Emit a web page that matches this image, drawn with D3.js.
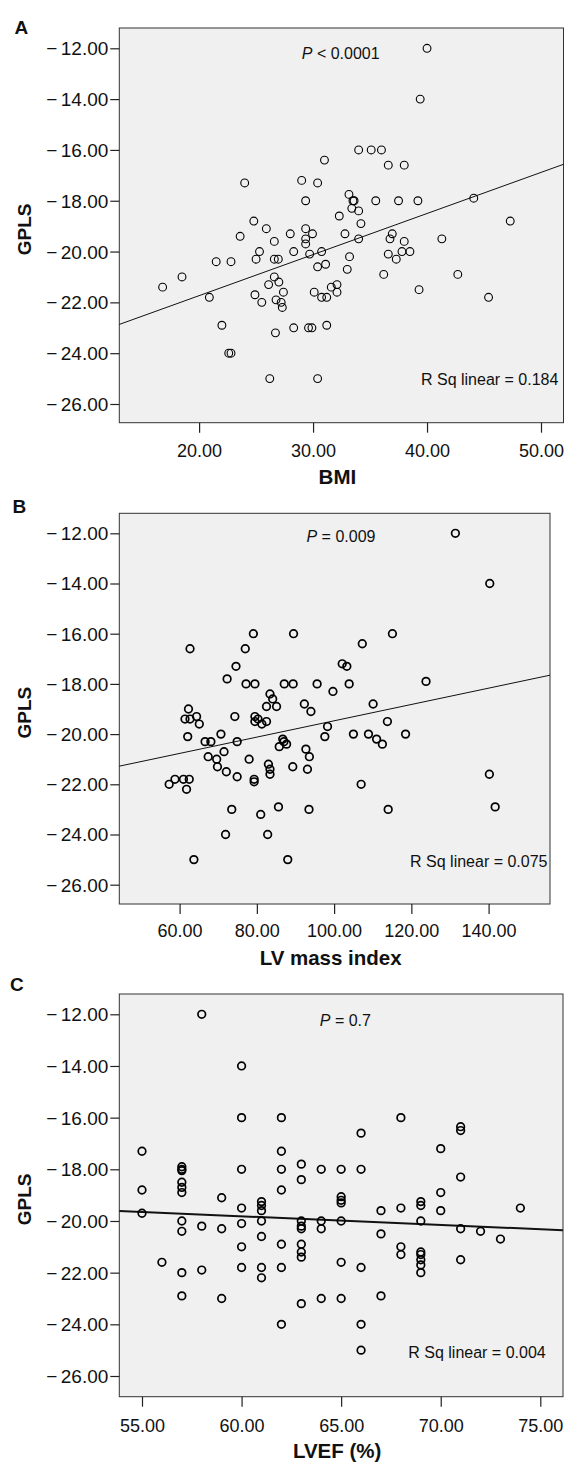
<!DOCTYPE html>
<html>
<head>
<meta charset="utf-8">
<script src="https://cdn.jsdelivr.net/npm/d3@7"></script>
<style>
html,body{margin:0;padding:0;background:#fff;}
svg{display:block;font-family:"Liberation Sans",Arial,sans-serif;}
</style>
</head>
<body>
<svg id="chart" width="566" height="1463"></svg>
<script>
// ---------- DATA ----------
const gplsTicks = [-26, -24, -22, -20, -18, -16, -14, -12];
const bmiTicks = [20, 30, 40, 50];
const lvmiTicks = [60, 80, 100, 120, 140];
const lvefTicks = [55, 60, 65, 70, 75];

// Panel A: BMI vs GPLS
const bmi = [40.0,39.4,34.0,35.1,36.0,31.0,36.6,38.0,24.0,29.0,30.4,29.35,33.15,33.5,33.6,33.4,34.0,35.5,37.5,39.2,44.1,47.3,32.3,34.2,24.8,25.9,23.6,26.6,28.0,29.35,29.95,29.35,29.35,32.8,34.0,36.95,36.75,38.0,41.3,
  25.3,25.0,21.5,22.8,18.5,16.8,20.9,26.6,26.95,28.3,29.7,30.75,30.4,31.1,33.2,33.0,36.6,37.3,37.8,38.5,36.2,42.7,39.3,45.4,26.6,26.1,27.0,24.9,25.5,27.4,26.75,27.2,27.3,30.1,30.75,31.2,31.6,32.1,32.1,22.0,26.7,28.3,29.6,29.9,31.2,22.6,22.8,26.2,30.4];
const gplsA = [-12.0,-14.0,-16.0,-16.0,-16.0,-16.4,-16.6,-16.6,-17.3,-17.2,-17.3,-18.0,-17.75,-18.0,-18.0,-18.3,-18.4,-18.0,-18.0,-18.0,-17.9,-18.8,-18.6,-18.9,-18.8,-19.1,-19.4,-19.6,-19.3,-19.1,-19.3,-19.5,-19.7,-19.3,-19.5,-19.3,-19.5,-19.6,-19.5,
  -20.0,-20.3,-20.4,-20.4,-21.0,-21.4,-21.8,-20.3,-20.3,-20.0,-20.1,-20.0,-20.6,-20.5,-20.2,-20.7,-20.1,-20.3,-20.0,-20.0,-20.9,-20.9,-21.5,-21.8,-21.0,-21.3,-21.2,-21.7,-22.0,-21.6,-21.9,-22.0,-22.2,-21.6,-21.8,-21.8,-21.4,-21.3,-21.6,-22.9,-23.2,-23.0,-23.0,-23.0,-22.9,-24.0,-24.0,-25.0,-25.0];

// Panel B: LV mass index vs GPLS
const lvmi = [131.4,140.3,79.1,89.5,115.1,62.7,77.0,107.3,74.6,102.1,103.3,72.3,77.2,79.5,87.1,89.4,95.6,103.9,123.8,99.7,83.4,84.1,82.5,85.1,92.3,94.0,110.1,62.3,61.4,62.7,64.4,65.1,74.3,79.5,80.3,79.5,81.3,82.5,113.8,98.3,97.6,
  62.1,66.6,68.1,70.7,74.9,105.0,108.9,111.0,112.5,118.5,67.4,69.6,71.5,69.8,72.1,74.9,78.0,79.3,79.3,83.0,83.4,83.4,86.7,87.7,85.8,87.0,89.3,92.7,93.6,93.1,57.3,58.8,61.0,62.5,61.8,107.0,140.2,141.7,73.5,81.0,85.6,93.5,114.0,71.9,82.8,63.7,88.0];
const gplsB = [-12.0,-14.0,-16.0,-16.0,-16.0,-16.6,-16.6,-16.4,-17.3,-17.2,-17.3,-17.8,-18.0,-18.0,-18.0,-18.0,-18.0,-18.0,-17.9,-18.3,-18.4,-18.6,-18.9,-18.9,-18.8,-19.1,-18.8,-19.0,-19.4,-19.4,-19.3,-19.6,-19.3,-19.3,-19.4,-19.5,-19.6,-19.5,-19.5,-19.7,-20.1,
  -20.1,-20.3,-20.3,-20.0,-20.3,-20.0,-20.0,-20.2,-20.4,-20.0,-20.9,-21.0,-20.7,-21.3,-21.5,-21.7,-21.0,-21.8,-21.9,-21.2,-21.4,-21.6,-20.2,-20.4,-20.5,-20.3,-21.3,-20.6,-20.9,-21.4,-22.0,-21.8,-21.8,-21.8,-22.2,-22.0,-21.6,-22.9,-23.0,-23.2,-22.9,-23.0,-23.0,-24.0,-24.0,-25.0,-25.0];

// Panel C: LVEF vs GPLS
const lvef = [55,55,55, 56, 57,57,57,57,57,57,57,57,57,57, 58,58,58, 59,59,59, 60,60,60,60,60,60,60, 61,61,61,61,61,61,61,
  62,62,62,62,62,62,62, 63,63,63,63,63,63,63,63,63, 64,64,64,64, 65,65,65,65,65,65,65, 66,66,66,66,66, 67,67,67, 68,68,68,68,
  69,69,69,69,69,69,69,69, 70,70,70, 71,71,71,71,71, 72, 73, 74];
const gplsC = [-17.3,-18.8,-19.7, -21.6, -17.9,-18.0,-18.05,-18.5,-18.7,-18.9,-20.0,-20.4,-22.0,-22.9, -12.0,-20.2,-21.9, -19.1,-20.3,-23.0,
  -14.0,-16.0,-18.0,-19.5,-20.1,-21.0,-21.8, -19.25,-19.4,-19.6,-20.0,-20.6,-21.8,-22.2,
  -16.0,-17.3,-18.0,-18.8,-20.9,-21.8,-24.0, -17.8,-18.4,-20.0,-20.2,-20.3,-20.9,-21.2,-21.4,-23.2, -18.0,-20.0,-20.3,-23.0,
  -18.0,-19.06,-19.2,-19.3,-20.0,-21.6,-23.0, -16.6,-18.0,-21.8,-24.0,-25.0, -19.6,-20.5,-22.9, -16.0,-19.5,-21.0,-21.3,
  -19.25,-19.4,-20.0,-21.2,-21.3,-21.5,-21.7,-22.0, -17.2,-18.9,-19.6, -16.35,-16.5,-18.3,-20.3,-21.5, -20.4, -20.7, -19.5];

// Fit lines: [intercept, slope]
const fitA = [-24.97, 0.1617];
const fitB = [-22.72, 0.0325];
const fitC = [-17.82, -0.0333];

const panelLetters = ["A", "B", "C"];
const xTitles = ["BMI", "LV mass index", "LVEF (%)"];
const pTexts = ["< 0.0001", "= 0.009", "= 0.7"];
const r2Texts = ["R Sq linear = 0.184", "R Sq linear = 0.075", "R Sq linear = 0.004"];

// ---------- LAYOUT ----------
const layouts = [
  {left:119.3, right:563.5, top:28, bottom:422.7, xPx:[199.1,541], yPx:[404,48.3],
   letter:[14.5,34.3], pPos:[301.8,59.3], r2Pos:[558.4,385], xLabY:456.7, titleY:484.2,
   markR:3.9, markW:1.1, lineW:1.0},
  {left:119.3, right:550, top:513.3, bottom:904, xPx:[179.6,488.6], yPx:[884.7,533.3],
   letter:[12.6,513], pPos:[306.5,541.7], r2Pos:[547.5,867.3], xLabY:936.7, titleY:965,
   markR:3.8, markW:1.7, lineW:1.0},
  {left:119.3, right:563, top:994, bottom:1396.7, xPx:[142,540.3], yPx:[1376,1014.3],
   letter:[10,991], pPos:[319.8,1025.7], r2Pos:[545.7,1357.7], xLabY:1431.7, titleY:1458,
   markR:3.8, markW:1.7, lineW:2.0}
];

const datasets = [
  {xs:bmi, ys:gplsA, xTicks:bmiTicks, fit:fitA},
  {xs:lvmi, ys:gplsB, xTicks:lvmiTicks, fit:fitB},
  {xs:lvef, ys:gplsC, xTicks:lvefTicks, fit:fitC}
];

const svg = d3.select("#chart");

datasets.forEach((ds, i) => {
  const L = layouts[i];
  const x = d3.scaleLinear().domain([ds.xTicks[0], ds.xTicks[ds.xTicks.length-1]]).range(L.xPx);
  const y = d3.scaleLinear().domain([gplsTicks[0], gplsTicks[gplsTicks.length-1]]).range(L.yPx);
  const g = svg.append("g");

  // plot background + frame
  g.append("rect").attr("x", L.left).attr("y", L.top)
    .attr("width", L.right - L.left).attr("height", L.bottom - L.top)
    .attr("fill", "#f0f0f0").attr("stroke", "#333").attr("stroke-width", 1);

  // y axis
  const ya = g.append("g").attr("transform", `translate(${L.left},0)`)
    .call(d3.axisLeft(y).tickValues(gplsTicks).tickSize(9).tickPadding(2).tickFormat(d => d.toFixed(2)));
  ya.select(".domain").remove();
  ya.selectAll(".tick line").attr("stroke", "#222").attr("stroke-width", 1.2);
  ya.selectAll(".tick text").attr("font-size", 19).attr("fill", "#111")
    .attr("font-family", "Liberation Sans, Arial, sans-serif").attr("dy", "0.34em")
    .each(function(d) {
      const t = d3.select(this);
      t.text(null);
      t.append("tspan").text("\u2212");
      t.append("tspan").attr("dx", 3.5).text(Math.abs(d).toFixed(2));
    });

  // x axis
  const xa = g.append("g").attr("transform", `translate(0,${L.bottom})`)
    .call(d3.axisBottom(x).tickValues(ds.xTicks).tickSize(10).tickFormat(d => d.toFixed(2)));
  xa.select(".domain").remove();
  xa.selectAll(".tick line").attr("stroke", "#222").attr("stroke-width", 1.2);
  xa.selectAll(".tick text").attr("font-size", 18).attr("fill", "#111")
    .attr("font-family", "Liberation Sans, Arial, sans-serif")
    .attr("y", L.xLabY - L.bottom).attr("dy", 0);

  // fit line
  const [b0, b1] = ds.fit;
  const xd0 = x.invert(L.left), xd1 = x.invert(L.right);
  g.append("line")
    .attr("x1", x(xd0)).attr("y1", y(b0 + b1 * xd0))
    .attr("x2", x(xd1)).attr("y2", y(b0 + b1 * xd1))
    .attr("stroke", "#111").attr("stroke-width", L.lineW);

  // points
  g.append("g").selectAll("circle").data(ds.xs.map((v, k) => [v, ds.ys[k]])).join("circle")
    .attr("cx", d => x(d[0])).attr("cy", d => y(d[1])).attr("r", L.markR)
    .attr("fill", "none").attr("stroke", "#000").attr("stroke-width", L.markW);

  // annotations
  const pt = g.append("text").attr("x", L.pPos[0]).attr("y", L.pPos[1])
    .attr("font-size", 16).attr("fill", "#111");
  pt.append("tspan").attr("font-style", "italic").text("P");
  pt.append("tspan").text(" " + pTexts[i]);
  g.append("text").attr("x", L.r2Pos[0]).attr("y", L.r2Pos[1]).attr("text-anchor", "end")
    .attr("font-size", 16).attr("fill", "#111").text(r2Texts[i]);

  // titles
  g.append("text").attr("x", (L.left + L.right) / 2 - 4).attr("y", L.titleY)
    .attr("text-anchor", "middle").attr("font-size", 20.5).attr("font-weight", "bold")
    .attr("fill", "#111").text(xTitles[i]);
  const cy = (L.top + L.bottom) / 2 + 4;
  g.append("text").attr("transform", `translate(30.5,${cy}) rotate(-90)`)
    .attr("text-anchor", "middle").attr("font-size", 19).attr("font-weight", "bold")
    .attr("fill", "#111").text("GPLS");
  g.append("text").attr("x", L.letter[0]).attr("y", L.letter[1])
    .attr("font-size", 19).attr("font-weight", "bold").attr("fill", "#111").text(panelLetters[i]);
});
</script>
</body>
</html>
